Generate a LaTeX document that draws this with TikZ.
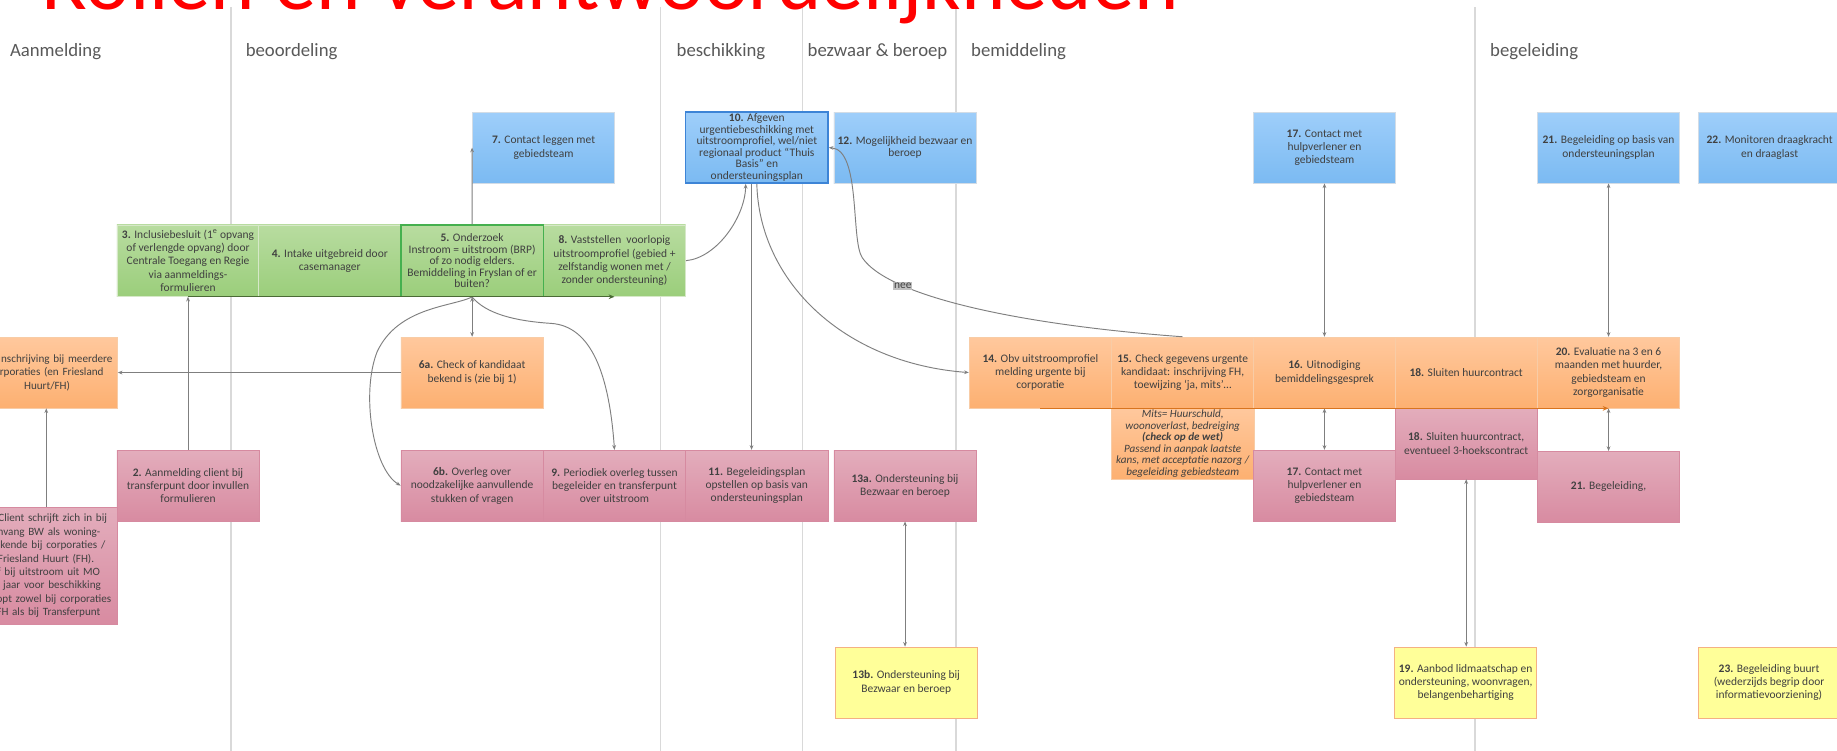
\documentclass[tikz,border=0pt]{standalone}
\usepackage{fontspec}
\setmainfont{Carlito}
\usetikzlibrary{arrows.meta}
\definecolor{txt}{HTML}{404040}
\definecolor{hdr}{HTML}{595959}
\definecolor{lanec}{HTML}{D9D9D9}
\definecolor{connc}{HTML}{7F7F7F}
\definecolor{blueT}{HTML}{9ECEFA}
\definecolor{blueB}{HTML}{7BBAF2}
\definecolor{bluebd}{HTML}{D2DCE6}
\definecolor{greenT}{HTML}{B8DCA0}
\definecolor{greenB}{HTML}{9BCE7B}
\definecolor{greenbd}{HTML}{D6E8C8}
\definecolor{orT}{HTML}{FFC89D}
\definecolor{orB}{HTML}{FDB071}
\definecolor{orbd}{HTML}{F8CCA6}
\definecolor{pkT}{HTML}{E3ADBC}
\definecolor{pkB}{HTML}{D88BA1}
\definecolor{pkbd}{HTML}{D68AA0}
\definecolor{yel}{HTML}{FFFF99}
\definecolor{yelbd}{HTML}{F4B183}
\definecolor{hlBlue}{HTML}{3D84D6}
\definecolor{hlGreen}{HTML}{45B04F}
\definecolor{dkGreen}{HTML}{4A6A35}
\definecolor{dkOrange}{HTML}{D8741E}
\definecolor{neebg}{HTML}{BFBFBF}
\begin{document}
\begin{tikzpicture}[x=1pt,y=-1pt,
  >={Stealth[length=4pt,width=3.2pt]},
  box/.style={rectangle, minimum width=121.5pt, minimum height=60.5pt, inner sep=0pt,
    align=center, text=txt, font=\fontsize{9.8}{11.4}\selectfont, line width=0.6pt},
  bluebox/.style={box, draw=bluebd, top color=blueT, bottom color=blueB},
  greenbox/.style={box, draw=greenbd, top color=greenT, bottom color=greenB},
  orbox/.style={box, draw=orbd, top color=orT, bottom color=orB},
  pinkbox/.style={box, draw=pkbd, top color=pkT, bottom color=pkB},
  yelbox/.style={box, draw=yelbd, fill=yel},
  tight/.style={font=\fontsize{9.8}{9.8}\selectfont},
  cutbox/.style={font=\fontsize{9.5}{11.5}\selectfont, align=right},
  lanehdr/.style={anchor=base west, inner sep=0pt, text=hdr, font=\fontsize{16}{19}\selectfont},
  laneline/.style={draw=lanec, line width=1.2pt},
  conn/.style={draw=connc, line width=0.8pt},
  rowarrow/.style={line width=1pt, -{Stealth[length=5pt,width=4pt]}},
  neelbl/.style={fill=neebg, inner xsep=0.6pt, inner ysep=1.2pt, text=txt, font=\fontsize{9.8}{10}\selectfont}
]
\useasboundingbox (0,0) rectangle (1568,641);
\clip (0,0) rectangle (1568,641);
\fill[white] (0,0) rectangle (1568,641);

% lanes
\draw[laneline] (197,6) -- (197,641);
\draw[laneline] (564,6) -- (564,641);
\draw[laneline] (685,6) -- (685,641);
\draw[laneline] (816,6) -- (816,641);
\draw[laneline] (1259,6) -- (1259,641);

% title and headers
\node[anchor=base west, inner sep=0pt, text=red, font=\fontsize{72.2}{80}\selectfont] (title) at (35,8.5) {Rollen en verantwoordelijkheden};
\node[lanehdr] (h1) at (8.4,48.4) {Aanmelding};
\node[lanehdr] (h2) at (209.6,48.4) {beoordeling};
\node[lanehdr] (h3) at (577.4,48.4) {beschikking};
\node[lanehdr] (h4) at (689.2,48.4) {bezwaar \& beroep};
\node[lanehdr] (h5) at (828.8,48.4) {bemiddeling};
\node[lanehdr] (h6) at (1271.8,48.4) {begeleiding};

% blue row
\node[bluebox] (b7) at (464,126) {\textbf{7.} Contact leggen met\\gebiedsteam};
\node[bluebox, font=\fontsize{9.8}{10}\selectfont] (b12) at (772.5,126) {\textbf{12.} Mogelijkheid bezwaar en\\beroep};
\node[bluebox, tight, draw=hlBlue, line width=1.3pt] (b10) at (646,126) {\textbf{10.} Afgeven\\urgentiebeschikking met\\uitstroomprofiel, wel/niet\\regionaal product “Thuis\\Basis” en\\ondersteuningsplan};
\node[bluebox] (b17) at (1130.5,126) {\textbf{17.} Contact met\\hulpverlener en\\gebiedsteam};
\node[bluebox] (b21) at (1373,126) {\textbf{21.} Begeleiding op basis van\\ondersteuningsplan};
\node[bluebox] (b22) at (1510.5,126) {\textbf{22.} Monitoren draagkracht\\en draaglast};

% green row
\node[greenbox, minimum height=61pt] (g3) at (160.5,222.5) {\textbf{3.} Inclusiebesluit (1\textsuperscript{e} opvang\\of verlengde opvang) door\\Centrale Toegang en Regie\\via aanmeldings-\\formulieren};
\node[greenbox, minimum height=61pt] (g4) at (281.5,222.5) {\textbf{4.} Intake uitgebreid door\\casemanager};
\node[greenbox, minimum height=61pt] (g8) at (524.5,222.5) {\textbf{8.} Vaststellen\ \ voorlopig\\uitstroomprofiel (gebied +\\zelfstandig wonen met /\\zonder ondersteuning)};
\node[greenbox, tight, minimum height=61pt, draw=hlGreen, line width=1pt] (g5) at (403,222.5) {\textbf{5.} Onderzoek\\Instroom = uitstroom (BRP)\\of zo nodig elders.\\Bemiddeling in Fryslan of er\\buiten?};

% orange row
\node[orbox, cutbox, text width=113pt] (o1) at (39.5,318) {nschrijving bij meerdere\\rporaties (en Friesland\kern7.6pt\\Huurt/FH)\kern36.2pt};
\node[orbox] (o6a) at (403,318) {\textbf{6a.} Check of kandidaat\\bekend is (zie bij 1)};
\node[orbox] (o14) at (888,318) {\textbf{14.} Obv uitstroomprofiel\\melding urgente bij\\corporatie};
\node[orbox] (o15) at (1009.5,318) {\textbf{15.} Check gegevens urgente\\kandidaat: inschrijving FH,\\toewijzing ‘ja, mits’…};
\node[orbox] (o16) at (1130.5,318) {\textbf{16.} Uitnodiging\\bemiddelingsgesprek};
\node[orbox] (o18) at (1251.5,318) {\textbf{18.} Sluiten huurcontract};
\node[orbox] (o20) at (1373,318) {\textbf{20.} Evaluatie na 3 en 6\\maanden met huurder,\\gebiedsteam en\\zorgorganisatie};
\node[orbox, font=\fontsize{9.5}{9.8}\selectfont\itshape] (mits) at (1009.5,378.5) {Mits= Huurschuld,\\woonoverlast, bedreiging\\\textbf{(check op de wet)}\\Passend in aanpak laatste\\kans, met acceptatie nazorg /\\begeleiding gebiedsteam};

% pink row
\node[pinkbox] (p2) at (160.5,414.5) {\textbf{2.} Aanmelding client bij\\transferpunt door invullen\\formulieren};
\node[pinkbox, cutbox, minimum height=100pt, text width=110.8pt] (pC) at (39.5,483) {Client schrijft zich in bij\kern3.5pt\\nvang BW als woning-\kern9.2pt\\ekende bij corporaties /\kern5pt\\Friesland Huurt (FH).\kern14.5pt\\f bij uitstroom uit MO\kern9.5pt\\jaar voor beschikking\kern8.8pt\\opt zowel bij corporaties\\FH als bij Transferpunt\kern9.2pt};
\node[pinkbox] (p6b) at (403,414.5) {\textbf{6b.} Overleg over\\noodzakelijke aanvullende\\stukken of vragen};
\node[pinkbox] (p9) at (524.5,414.5) {\textbf{9.} Periodiek overleg tussen\\begeleider en transferpunt\\over uitstroom};
\node[pinkbox] (p11) at (646,414.5) {\textbf{11.} Begeleidingsplan\\opstellen op basis van\\ondersteuningsplan};
\node[pinkbox] (p13a) at (772.5,414.5) {\textbf{13a.} Ondersteuning bij\\Bezwaar en beroep};
\node[pinkbox] (p17) at (1130.5,414.5) {\textbf{17.} Contact met\\hulpverlener en\\gebiedsteam};
\node[pinkbox] (p18) at (1251.5,378.5) {\textbf{18.} Sluiten huurcontract,\\eventueel 3-hoekscontract};
\node[pinkbox] (p21) at (1373,415.5) {\textbf{21.} Begeleiding,};

% yellow row
\node[yelbox] (y13b) at (773.5,582.5) {\textbf{13b.} Ondersteuning bij\\Bezwaar en beroep};
\node[yelbox] (y19) at (1251,582.5) {\textbf{19.} Aanbod lidmaatschap en\\ondersteuning, woonvragen,\\belangenbehartiging};
\node[yelbox] (y23) at (1510,582.5) {\textbf{23.} Begeleiding buurt\\(wederzijds begrip door\\informatievoorziening)};

% connectors
\draw[conn,->] (pC.north) -- (o1.south);
\draw[conn,->] (p2.north) -- (g3.south);
\draw[conn,->] (o6a.west) -- (o1.east);
\draw[conn,->] (g5.north) -- (b7.west);
\draw[conn,<->] (g5.south) -- (o6a.north);
\draw[conn,->] (g5.south) .. controls (385,262) and (340,262) .. (322,300) .. controls (308,335) and (318,400) .. (p6b.west);
\draw[conn,->] (g5.south) .. controls (415,268) and (440,274) .. (470,276) .. controls (505,278) and (520,320) .. (p9.north);
\draw[conn,->] (g8.east) .. controls (612,220) and (636,185) .. ([xshift=-9.5pt]b10.south);
\draw[conn,->] ([xshift=-4.5pt]b10.south) -- ([xshift=-4.5pt]p11.north);
\draw[conn,->] (b10.south) .. controls (648,240) and (720,310) .. (o14.west);
\draw[conn,->] (o15.north) .. controls (880,278) and (760,255) .. (736,220) node[neelbl,pos=0.75] (nee) {nee} .. controls (726,205) and (735,128) .. (b10.east);
\draw[conn,<->] (b17.south) -- (o16.north);
\draw[conn,<->] (o16.south) -- (p17.north);
\draw[conn,<->] (b21.south) -- (o20.north);
\draw[conn,<->] (o20.south) -- (p21.north);
\draw[conn,<->] (p18.south) -- (p18.south |- y19.north);
\draw[conn,<->] (p13a.south) -- (p13a.south |- y13b.north);
\draw[rowarrow, draw=dkGreen, fill=dkGreen] (g3.south) -- (g8.south);
\draw[rowarrow, draw=dkOrange, fill=dkOrange] (o14.south) -- (o20.south);
\end{tikzpicture}
\end{document}
